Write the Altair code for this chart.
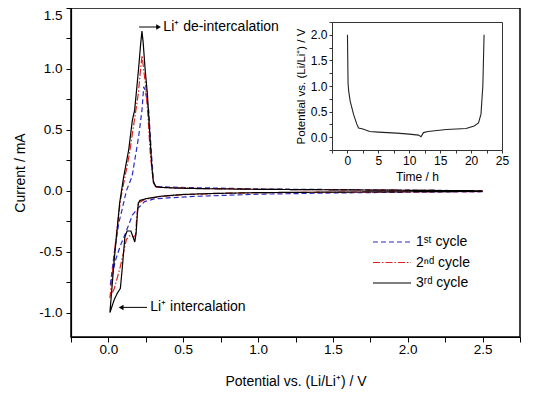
import altair as alt
import pandas as pd

FONT = "Liberation Sans"

# ---------------- CV data (Potential V, Current mA), in scan order ----------------
cycle_names = ["1ˢᵗ cycle", "2ⁿᵈ cycle", "3ʳᵈ cycle"]
cycle_colors = ["#2a2ac8", "#e02020", "#000000"]
cycle_dashes = [[5, 3], [7, 2, 1.5, 2], [1, 0]]

c1_v = [2.5, 2.0, 1.5, 1.0, 0.6, 0.4, 0.3, 0.24, 0.2, 0.16, 0.12, 0.08, 0.05, 0.03, 0.012,
        0.04, 0.07, 0.091, 0.12, 0.158, 0.202, 0.224, 0.236, 0.25, 0.269, 0.285, 0.302, 0.32,
        0.4, 0.6, 1.0, 1.5, 2.0, 2.5]
c1_i = [-0.008, -0.012, -0.018, -0.028, -0.045, -0.058, -0.068, -0.09, -0.14, -0.2, -0.33, -0.45,
        -0.56, -0.66, -0.78,
        -0.5, -0.26, -0.156, 0.0, 0.117, 0.445, 0.66, 0.855, 0.8, 0.66, 0.35, 0.06, 0.035,
        0.03, 0.025, 0.015, 0.01, 0.005, 0.0]

c2_v = [2.5, 2.0, 1.5, 1.0, 0.7, 0.5, 0.35, 0.25, 0.2, 0.19, 0.182, 0.17, 0.14, 0.12, 0.08,
        0.04, 0.01,
        0.045, 0.08, 0.14, 0.17, 0.2, 0.215, 0.225, 0.235, 0.25, 0.265, 0.28, 0.3, 0.32,
        0.45, 0.6, 1.0, 1.5, 2.0, 2.5]
c2_i = [-0.006, -0.009, -0.012, -0.016, -0.023, -0.032, -0.047, -0.068, -0.1, -0.2, -0.36, -0.38,
        -0.37, -0.4, -0.62, -0.8, -0.88,
        -0.45, -0.08, 0.3, 0.55, 0.8, 1.0, 1.11, 1.0, 0.85, 0.6, 0.3, 0.07, 0.03,
        0.024, 0.019, 0.012, 0.008, 0.004, 0.0]

c3_v = [2.5, 2.0, 1.5, 1.0, 0.7, 0.5, 0.35, 0.25, 0.21, 0.2, 0.193, 0.185, 0.176, 0.165, 0.15,
        0.125, 0.11, 0.095, 0.08, 0.06, 0.04, 0.01,
        0.04, 0.075, 0.1, 0.136, 0.16, 0.175, 0.19, 0.205, 0.215, 0.224, 0.232, 0.245, 0.26,
        0.275, 0.29, 0.3, 0.315, 0.35, 0.45, 0.6, 1.0, 1.5, 2.0, 2.5]
c3_i = [-0.005, -0.008, -0.011, -0.015, -0.022, -0.03, -0.045, -0.065, -0.08, -0.1, -0.2, -0.35,
        -0.42, -0.38, -0.33, -0.33, -0.38, -0.6, -0.8, -0.84, -0.89, -1.0,
        -0.55, -0.1, 0.1, 0.34, 0.58, 0.66, 0.85, 1.05, 1.2, 1.31, 1.22, 1.0, 0.8,
        0.5, 0.2, 0.08, 0.035, 0.028, 0.022, 0.018, 0.012, 0.008, 0.004, 0.0]

# ---------------- inset data (Time h, Potential V) ----------------
inset_t = [0, 0.1, 0.2, 0.45, 1.0, 1.5, 1.8, 2.5, 3.6, 5, 8, 10, 11.5, 11.9, 12.05, 12.3,
           13, 16, 19.2, 20.5, 21.2, 21.6, 21.9, 22.1]
inset_e = [2.0, 1.05, 0.9, 0.7, 0.44, 0.26, 0.18, 0.16, 0.11, 0.10, 0.08, 0.06, 0.04, 0.01,
           0.04, 0.09, 0.11, 0.15, 0.17, 0.22, 0.28, 0.45, 1.0, 2.0]

# ---------------- annotations ----------------
ann_text = ["Li⁺ de-intercalation", "Li⁺ intercalation"]
ann_v = [0.367, 0.28]
ann_i = [1.344, -0.957]
arrow_id = ["a", "a", "b", "b"]
arrow_v = [0.205, 0.335, 0.258, 0.085]
arrow_i = [1.344, 1.344, -0.957, -0.957]
head_v = [0.335, 0.085]
head_i = [1.344, -0.957]
head_shape = ["triangle-right", "triangle-left"]

xticks = [-0.25 + 0.25 * k for k in range(13)]
yticks = [-1.0 + 0.25 * k for k in range(11)]
ixticks = [-2.5 + 2.5 * k for k in range(12)]
iyticks = [-0.25 + 0.25 * k for k in range(11)]

rows = []
for name, vs, cs in zip(cycle_names, [c1_v, c2_v, c3_v], [c1_i, c2_i, c3_i]):
    for k, (v, c) in enumerate(zip(vs, cs)):
        rows.append({"cycle": name, "V": v, "I": c, "k": k})
cv = pd.DataFrame(rows)
inset = pd.DataFrame({"t": inset_t, "E": inset_e, "k": list(range(len(inset_t)))})
ann = pd.DataFrame({"V": ann_v, "I": ann_i, "txt": ann_text})
arrows = pd.DataFrame({"V": arrow_v, "I": arrow_i, "id": arrow_id})
heads = pd.DataFrame({"V": head_v, "I": head_i, "shape": head_shape})

W, H = 449, 329
xscale = alt.Scale(domain=[-0.25, 2.75], nice=False, zero=False)
yscale = alt.Scale(domain=[-1.2, 1.5], nice=False, zero=False)

lab_expr = "datum.value % 0.5 == 0 ? replace(format(datum.value, '.1f'), '\u2212', '-') : ''"

xaxis = alt.Axis(values=xticks, labelExpr=lab_expr, title="Potential vs. (Li/Li⁺) / V",
                 tickSize=5, labelPadding=0, titlePadding=19, labelFontSize=13.5,
                 titleFontSize=14, labelFlush=False, labelOverlap=False)
yaxis = alt.Axis(values=yticks, labelExpr=lab_expr, title="Current / mA",
                 tickSize=5, labelPadding=4, titlePadding=11, labelFontSize=13.5,
                 titleFontSize=14, labelFlush=1, labelOverlap=False)

# a wide horizontal stroke drawn from a custom path, so rows stay compact
leg = alt.Legend(title=None, orient="none", legendX=312, legendY=225,
                 symbolType="M-2.375,0H2.375", symbolSize=256, symbolStrokeWidth=1.2,
                 rowPadding=4.5, labelFont=FONT, labelFontSize=14, labelOffset=15,
                 padding=0, labelColor="black")

lines = alt.Chart(cv).mark_line(strokeWidth=1.2).encode(
    x=alt.X("V:Q", scale=xscale, axis=xaxis),
    y=alt.Y("I:Q", scale=yscale, axis=yaxis),
    color=alt.Color("cycle:N", scale=alt.Scale(domain=cycle_names, range=cycle_colors),
                    legend=leg),
    strokeDash=alt.StrokeDash("cycle:N", scale=alt.Scale(domain=cycle_names, range=cycle_dashes),
                              legend=leg),
    order="k:Q",
)

texts = alt.Chart(ann).mark_text(align="left", baseline="middle", font=FONT, fontSize=14,
                                 color="black").encode(
    x=alt.X("V:Q", scale=xscale, axis=xaxis), y=alt.Y("I:Q", scale=yscale, axis=yaxis),
    text="txt:N")
arrow_lines = alt.Chart(arrows).mark_line(color="black", strokeWidth=1).encode(
    x=alt.X("V:Q", scale=xscale, axis=xaxis), y=alt.Y("I:Q", scale=yscale, axis=yaxis),
    detail="id:N")
arrow_heads = alt.Chart(heads).mark_point(filled=True, color="black", size=30, opacity=1).encode(
    x=alt.X("V:Q", scale=xscale, axis=xaxis), y=alt.Y("I:Q", scale=yscale, axis=yaxis),
    shape=alt.Shape("shape:N", scale=None))

main = alt.layer(lines, arrow_lines, arrow_heads, texts)

# inset placed via explicit pixel ranges
ix_scale = alt.Scale(domain=[-2.5, 25], range=[261, 431], nice=False, zero=False)
iy_scale = alt.Scale(domain=[-0.25, 2.25], range=[142, 14], nice=False, zero=False)
ilab_x = "datum.value % 5 == 0 ? format(datum.value, 'd') : ''"
ilab_y = "datum.value % 0.5 == 0 ? replace(format(datum.value, '.1f'), '\u2212', '-') : ''"

inset_line = alt.Chart(inset).mark_line(color="#222222", strokeWidth=1.1).encode(
    x=alt.X("t:Q", scale=ix_scale,
            axis=alt.Axis(orient="bottom", offset=-187, values=ixticks, labelExpr=ilab_x,
                          title="Time / h", tickSize=3, labelPadding=2, titlePadding=5,
                          labelFontSize=12, titleFontSize=12, labelFlush=False,
                          labelOverlap=False, domainColor="#333333", tickColor="#333333",
                          domainWidth=1)),
    y=alt.Y("E:Q", scale=iy_scale,
            axis=alt.Axis(orient="left", offset=-261, values=iyticks, labelExpr=ilab_y,
                          title="Potential vs. (Li/Li⁺) / V", tickSize=3, labelPadding=2,
                          titlePadding=4, labelFontSize=12, titleFontSize=11.5,
                          labelFlush=False, labelOverlap=False, domainColor="#333333",
                          tickColor="#333333", domainWidth=1)),
    order="k:Q",
)
inset_frame = alt.Chart(inset).mark_line(opacity=0).encode(
    x=alt.X("t:Q", scale=ix_scale,
            axis=alt.Axis(orient="top", offset=-14, ticks=False, labels=False, title=None,
                          domainColor="#333333", domainWidth=1)),
    y=alt.Y("E:Q", scale=iy_scale,
            axis=alt.Axis(orient="right", offset=-18, ticks=False, labels=False, title=None,
                          domainColor="#333333", domainWidth=1)),
)

chart = alt.layer(main, inset_line, inset_frame).resolve_scale(
    x="independent", y="independent"
).properties(
    width=W, height=H,
    autosize=alt.AutoSizeParams(type="none"),
    padding={"left": 63, "top": 0, "right": 8, "bottom": 52},
    background="white",
).configure_axis(
    grid=False, labelFont=FONT, titleFont=FONT, labelColor="black", titleColor="black",
    domainColor="black", tickColor="black", titleFontWeight="normal", domainWidth=1.2,
).configure_view(stroke="black", strokeWidth=1.5)

chart.save("out.html", embed_options={"renderer": "svg", "actions": False})
